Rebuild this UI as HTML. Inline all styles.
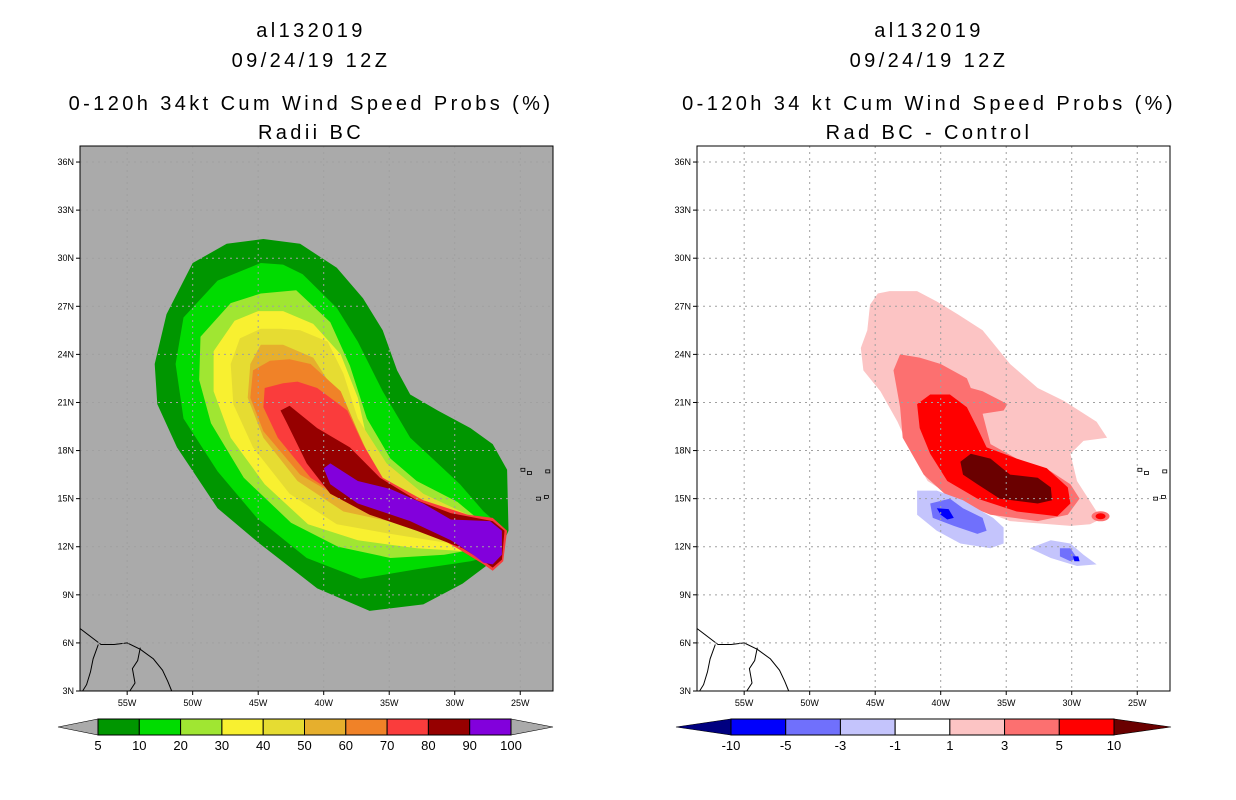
<!DOCTYPE html>
<html><head><meta charset="utf-8"><style>
html,body{margin:0;padding:0;background:#fff;width:1236px;height:800px;overflow:hidden}
svg{display:block;font-family:"Liberation Sans",sans-serif}
.tt{letter-spacing:3.4px}
</style></head><body>
<svg id="chart" width="1236" height="800" viewBox="0 0 1236 800">
<text class="tt" x="311" y="37" font-size="20" text-anchor="middle">al132019</text>
<text class="tt" x="311" y="67" font-size="20" text-anchor="middle">09/24/19 12Z</text>
<text class="tt" x="311" y="110" font-size="20" text-anchor="middle">0-120h 34kt Cum Wind Speed Probs (%)</text>
<text class="tt" x="311" y="139" font-size="20" text-anchor="middle">Radii BC</text>
<text class="tt" x="929" y="37" font-size="20" text-anchor="middle">al132019</text>
<text class="tt" x="929" y="67" font-size="20" text-anchor="middle">09/24/19 12Z</text>
<text class="tt" x="929" y="110" font-size="20" text-anchor="middle">0-120h 34 kt Cum Wind Speed Probs (%)</text>
<text class="tt" x="929" y="139" font-size="20" text-anchor="middle">Rad BC - Control</text>
</svg>
<script>
// ---- data ----
const latTicks=[6,9,12,15,18,21,24,27,30,33,36];
const lonTicks=[-55,-50,-45,-40,-35,-30,-25];
const probLevels=[5,10,20,30,40,50,60,70,80,90,100];
const probColors=["#009600","#00dc00","#a0e632","#f8f030","#e6dc32","#e6af2d","#f08228","#fa3c3c","#960000","#8200dc"];
const diffLevels=[-10,-5,-3,-1,1,3,5,10];
const diffColors=["#0000fc","#7070fc","#c4c4fc","#ffffff","#fcc4c4","#fc7070","#ff0000"];
const p5=[[-47.4,30.9],[-50,29.7],[-52,26.5],[-52.9,23.4],[-52.7,20.9],[-51.2,18.2],[-48.1,14.4],[-44.9,12.2],[-40.5,9.4],[-36.5,8.0],[-32.4,8.4],[-29.4,9.7],[-26.8,11.3],[-25.9,13.0],[-26,16.8],[-27.1,18.4],[-28.8,19.4],[-31.3,20.5],[-33.4,21.5],[-34.4,23.0],[-35.5,25.5],[-37,27.5],[-39,29.4],[-41.8,30.9],[-44.6,31.2]];
const p10=[[-44.8,29.7],[-48.1,28.6],[-50.7,26.3],[-51.3,23.4],[-50.7,20.0],[-48.1,16.7],[-45.1,13.8],[-41.3,11.3],[-37.2,10.0],[-32.9,10.6],[-28.8,11.1],[-26.8,11.5],[-26.1,13.0],[-27.8,14.2],[-29.6,15.9],[-31.3,17.2],[-33.4,18.8],[-35.5,21.7],[-37.4,24.8],[-39,26.9],[-41.6,29.0],[-43.1,29.6]];
const p20=[[-44.8,27.8],[-47.1,27.2],[-49.4,25.1],[-49.5,22.4],[-48.6,19.7],[-46.1,16.3],[-42.5,13.5],[-38.9,12.0],[-34.9,11.3],[-30.8,11.5],[-28,11.9],[-26.7,12.7],[-29.8,14.8],[-32.9,16.1],[-34.9,17.5],[-36.7,20.0],[-38,23.3],[-39.5,26.0],[-42.1,28.0]];
const p30=[[-45,26.7],[-46.8,26.1],[-48.4,24.2],[-48.4,21.7],[-47.1,18.8],[-44.5,15.9],[-41.2,13.4],[-37.4,12.4],[-32.9,11.9],[-28.8,11.7],[-27.0,12.3],[-28.8,13.2],[-31.3,14.4],[-34.4,15.9],[-36.5,18.0],[-37.4,21.3],[-38.7,24.0],[-40.8,25.9],[-43.1,26.7]];
const p40=[[-44.8,25.6],[-46.4,25.0],[-47.1,23.4],[-46.9,20.9],[-45.4,18.2],[-42.6,15.3],[-39,13.4],[-34.9,12.8],[-30.3,12.2],[-27.6,11.9],[-29.0,14.0],[-32.4,15.3],[-35.2,17.2],[-37.4,20.0],[-38.5,22.8],[-39.7,24.8],[-41.8,25.5],[-43.3,25.6]];
const p50=[[-44.8,24.6],[-45.6,23.4],[-45.8,21.3],[-44.6,18.8],[-42.0,16.1],[-38.5,14.2],[-33.9,13.4],[-29.4,12.5],[-27.6,12.2],[-30.3,13.2],[-33.9,14.4],[-36.5,16.1],[-37.7,18.8],[-39.0,21.5],[-40.8,23.8],[-43.1,24.6]];
const p60=[[-44.1,23.6],[-45.4,23.0],[-45.6,21.3],[-44.6,19.2],[-41.8,16.5],[-38.0,14.7],[-33.4,13.8],[-28.8,13.0],[-27.8,12.5],[-30.3,13.6],[-33.4,14.7],[-35.9,16.5],[-37.4,19.2],[-38.7,21.7],[-41.0,23.4],[-42.6,23.7]];
const p70=[[-43.1,22.2],[-44.5,21.9],[-44.6,20.7],[-43.5,18.8],[-41.0,16.3],[-37.4,14.4],[-32.9,13.4],[-29.4,11.7],[-27.8,10.9],[-27.1,10.5],[-26.3,11.1],[-26.0,13.0],[-27.1,13.8],[-29.0,14.0],[-32.4,14.9],[-35.5,16.3],[-37.0,18.4],[-38.2,20.5],[-40.5,21.9],[-42.0,22.3]];
const p80=[[-43.3,20.5],[-42.8,19.7],[-41.3,17.2],[-39.5,15.3],[-36.5,14.0],[-32.9,13.0],[-29.4,11.9],[-27.8,11.1],[-27.1,10.7],[-26.4,11.2],[-26.2,13.0],[-27.1,13.6],[-30.3,14.1],[-32.9,14.9],[-35.7,16.3],[-38.0,18.2],[-40.5,19.4],[-42.6,20.8]];
const p100=[[-40.0,16.9],[-39.5,15.9],[-37.4,14.7],[-33.4,13.6],[-30.3,12.4],[-28.6,11.5],[-27.8,11.0],[-27.1,10.9],[-26.4,11.5],[-26.4,13.0],[-27.3,13.6],[-30.3,13.7],[-32.4,14.7],[-34.9,15.6],[-37.4,16.1],[-39.5,17.2]];
const d1=[[-44.8,27.8],[-43.9,27.95],[-41.8,27.95],[-40.3,27.3],[-38.7,26.5],[-36.8,25.5],[-34.7,23.4],[-32.6,21.9],[-30.6,21.1],[-28.1,19.8],[-27.3,18.8],[-29.1,18.6],[-30.1,17.8],[-29.6,16.1],[-28.1,14.2],[-27.6,13.8],[-28.6,13.4],[-30.1,13.3],[-34.7,13.6],[-38.3,14.7],[-41.0,16.1],[-42.3,18.0],[-43.3,19.8],[-44.6,21.7],[-45.9,23.0],[-46.1,24.4],[-45.6,25.5],[-45.4,27.1]];
const d3=[[-43.1,24.0],[-41.6,23.8],[-40.0,23.4],[-38.0,22.5],[-37.7,21.9],[-36.8,21.7],[-34.9,20.9],[-35.2,20.5],[-36.8,20.3],[-36.2,18.4],[-34.2,17.5],[-31.6,16.7],[-30.1,15.9],[-29.4,15.0],[-30.3,14.0],[-32.6,13.6],[-36.2,14.0],[-39.3,15.0],[-41.3,16.5],[-42.9,18.8],[-43.1,20.7],[-43.6,23.0]];
const d5=[[-41.8,20.9],[-40.8,21.5],[-39.3,21.5],[-38.0,20.7],[-37.2,19.4],[-36.5,18.2],[-34.2,17.5],[-31.9,16.9],[-30.3,15.7],[-30.1,14.7],[-31.1,13.9],[-34.2,14.2],[-37.2,15.0],[-39.5,16.1],[-40.8,17.8],[-41.6,19.4]];
const d10=[[-38.5,17.3],[-37.7,17.8],[-36.2,17.5],[-34.7,16.5],[-32.6,16.3],[-31.6,15.7],[-31.5,14.9],[-32.6,14.7],[-35.5,15.0],[-37.2,15.9],[-38.3,16.5]];
const dn1a=[[-41.8,15.5],[-40.3,15.5],[-38.3,14.9],[-36.0,13.8],[-35.2,13.2],[-35.2,12.2],[-36.2,11.9],[-38.5,12.2],[-40.3,13.0],[-41.8,14.0]];
const dn3a=[[-40.8,14.7],[-39.3,15.0],[-38.3,14.4],[-36.8,13.8],[-36.5,13.0],[-37.2,12.8],[-39.0,13.3],[-40.6,13.8]];
const dn5a=[[-40.3,14.4],[-39.4,14.35],[-39.0,13.8],[-39.5,13.7],[-40.0,14.0]];
const dn1b=[[-33.2,11.9],[-31.6,12.4],[-30.1,12.2],[-29.1,11.5],[-28.1,10.9],[-29.6,10.8],[-31.6,11.3]];
const dn3b=[[-30.9,11.9],[-30.1,11.9],[-29.6,11.3],[-30.1,11.1],[-30.9,11.4]];
const dn5b=[[-29.9,11.4],[-29.5,11.4],[-29.4,11.1],[-29.8,11.1]];
const coast=[[-58.6,6.9],[-57.8,6.4],[-57.0,5.9],[-56.0,5.9],[-55.0,6.0],[-54.0,5.6],[-53.0,5.0],[-52.3,4.3],[-51.9,3.6],[-51.6,3.0]];
const border1=[[-57.2,5.9],[-57.6,5.0],[-57.8,4.2],[-58.1,3.4],[-58.4,3.0]];
const border2=[[-54.0,5.7],[-54.2,4.9],[-54.6,4.4],[-54.4,3.5],[-54.8,3.0]];
const cvIslands=[[-24.8,16.8],[-24.3,16.6],[-22.9,16.7],[-23.6,15.0],[-23.0,15.1]];
// ---- axes ----
const NS="http://www.w3.org/2000/svg";
const svg=document.getElementById('chart');
const panels=[{x0:80,name:'left'},{x0:697,name:'right'}];
const W=473,Y0=146,H=545,lonMin=-58.6,lonMax=-22.5,latMin=3,latMax=37;
function xs(p,lon){return p.x0+(lon-lonMin)/(lonMax-lonMin)*W;}
function ys(lat){return Y0+H-(lat-latMin)/(latMax-latMin)*H;}
function el(t,a,parent){const e=document.createElementNS(NS,t);for(const k in a)e.setAttribute(k,a[k]);(parent||svg).appendChild(e);return e;}
function pts(p,arr){return arr.map(d=>xs(p,d[0]).toFixed(1)+','+ys(d[1]).toFixed(1)).join(' ');}
function poly(p,arr,fill,name){const e=el('polygon',{points:pts(p,arr),fill:fill});

return e;}
panels.forEach((p,pi)=>{
  const bg=el('rect',{x:p.x0,y:Y0,width:W,height:H,fill:pi==0?'#aaaaaa':'#ffffff'});
  
  
  if(pi==0){
    [p5,p10,p20,p30,p40,p50,p60,p70,p80,p100].forEach((a,i)=>poly(p,a,probColors[i],'prob-contour-'+probLevels[i]));
  }else{
    poly(p,d1,diffColors[4],'diff-contour-1');poly(p,d3,diffColors[5],'diff-contour-3');
    poly(p,d5,diffColors[6],'diff-contour-5');poly(p,d10,'#6a0000','diff-contour-10');
    poly(p,dn1a,diffColors[2],'diff-contour-neg1-a');poly(p,dn3a,diffColors[1],'diff-contour-neg3-a');poly(p,dn5a,diffColors[0],'diff-contour-neg5-a');
    poly(p,dn1b,diffColors[2],'diff-contour-neg1-b');poly(p,dn3b,diffColors[1],'diff-contour-neg3-b');poly(p,dn5b,diffColors[0],'diff-contour-neg5-b');
    const e1=el('ellipse',{cx:xs(p,-27.8),cy:ys(13.9),rx:9,ry:5,fill:'#fc7070'});
    
    
    const e2=el('ellipse',{cx:xs(p,-27.8),cy:ys(13.9),rx:5,ry:3,fill:'#ff0000'});
    
    
  }
  [coast,border1,border2].forEach((c,ci)=>{const l=el('polyline',{points:pts(p,c),fill:'none',stroke:'#000','stroke-width':1});
    
    });
  cvIslands.forEach(c=>{const r=el('rect',{x:xs(p,c[0])-2,y:ys(c[1])-1.5,width:4,height:3,fill:'none',stroke:'#000','stroke-width':0.8});
    
    });
  lonTicks.forEach(l=>{const x=xs(p,l);
    const g=el('line',{x1:x,x2:x,y1:Y0,y2:Y0+H,stroke:'#a0a0a0','stroke-dasharray':'2,4','stroke-width':1});
    
    
    el('line',{x1:x,x2:x,y1:Y0+H,y2:Y0+H+4,stroke:'#000'});
    const t=el('text',{x:x,y:Y0+H+15,'font-size':9,'text-anchor':'middle'});t.textContent=(-l)+'W';
    
    });
  latTicks.concat([3]).forEach(l=>{const y=ys(l);
    if(l>3){const g=el('line',{x1:p.x0,x2:p.x0+W,y1:y,y2:y,stroke:'#a0a0a0','stroke-dasharray':'2,4','stroke-width':1});
    
    }
    el('line',{x1:p.x0-4,x2:p.x0,y1:y,y2:y,stroke:'#000'});
    const t=el('text',{x:p.x0-6,y:y+3,'font-size':9,'text-anchor':'end'});t.textContent=l+'N';
    
    });
  const fr=el('rect',{x:p.x0,y:Y0,width:W,height:H,fill:'none',stroke:'#000','stroke-width':1});
  
  
});
function colorbar(xl,xr,bl,br,cols,levels,triL,triR,name){
  const yT=719,yB=735,yc=727,n=cols.length,w=(br-bl)/n;
  const g=el('g',{});
  
  el('polygon',{points:`${xl},${yc} ${bl},${yT} ${bl},${yB}`,fill:triL,stroke:'#000','stroke-width':0.6},g);
  el('polygon',{points:`${xr},${yc} ${br},${yT} ${br},${yB}`,fill:triR,stroke:'#000','stroke-width':0.6},g);
  cols.forEach((c,i)=>{const r=el('rect',{x:bl+i*w,y:yT,width:w,height:yB-yT,fill:c,stroke:'#000','stroke-width':1},g);
    
    });
  levels.forEach((v,i)=>{const t=el('text',{x:bl+i*w,y:yB+15,'font-size':13,'text-anchor':'middle'},g);t.textContent=v;
    
    });
}
colorbar(58,553,98,511,probColors,probLevels,'#aaaaaa','#aaaaaa','left-colorbar');
colorbar(676,1171,731,1114,diffColors,diffLevels,'#000080','#6a0000','right-colorbar');
</script>
</body></html>
